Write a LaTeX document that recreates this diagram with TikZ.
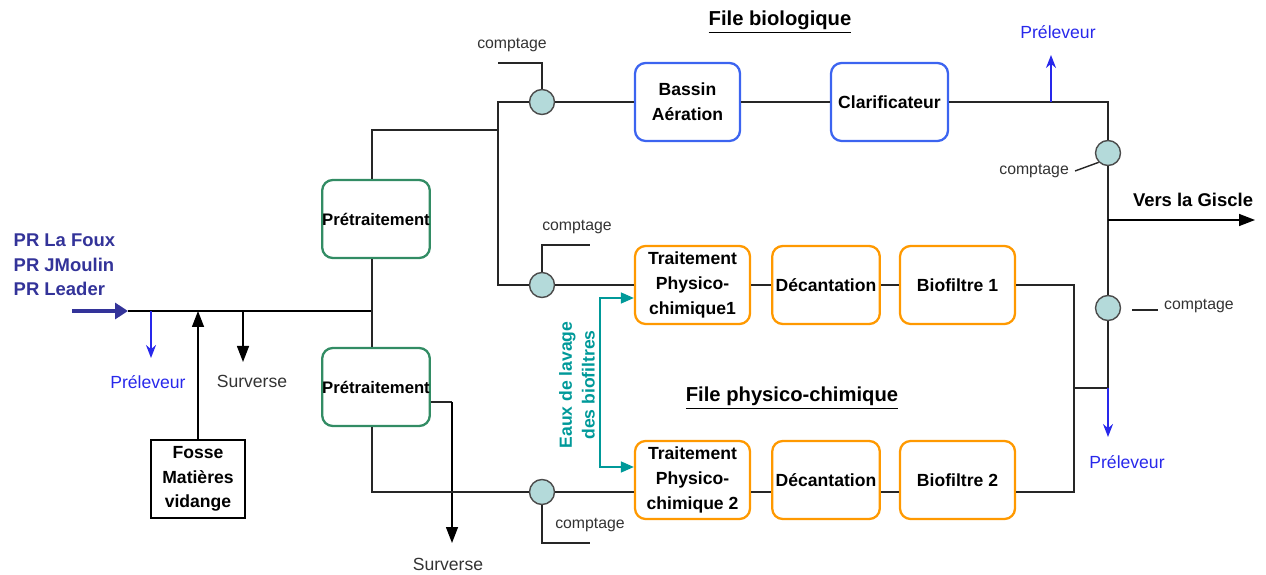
\documentclass[tikz,border=0pt]{standalone}
\usepackage{fontspec}
\setmainfont{Liberation Sans}
\usepackage{xcolor}
\usetikzlibrary{arrows.meta, positioning, calc}

\definecolor{prnavy}{RGB}{51,51,153}
\definecolor{blueprl}{RGB}{40,40,235}
\definecolor{blueb}{RGB}{60,100,240}
\definecolor{greenb}{RGB}{50,140,100}
\definecolor{orangeb}{RGB}{255,153,0}
\definecolor{cptfill}{RGB}{180,218,218}
\definecolor{tealc}{RGB}{0,153,153}

\begin{document}
\begin{tikzpicture}[
    box/.style={rectangle, draw=#1, line width=1.3pt, rounded corners=6pt, minimum height=1.56cm, inner sep=2pt, align=center, font=\fontsize{10}{14}\selectfont\bfseries},
    box/.default={orangeb},
    cpt/.style={circle, draw=black!70, fill=cptfill, minimum size=0.5cm, inner sep=0pt, line width=0.8pt},
    lbl/.style={font=\fontsize{9}{11}\selectfont, text=#1},
    lbl/.default={black!80},
    pipe/.style={line width=0.8pt, black!85},
    conn/.style={-{Triangle[length=3.2mm, width=2.4mm]}, line width=0.8pt, #1},
    conn/.default={black},
    samp/.style={-{Stealth[length=2.6mm, width=2mm]}, line width=1pt, blueprl}
]
\useasboundingbox (0,0) rectangle (25.32,-11.5);

% === ENTREE ===
\node[lbl=prnavy, font=\fontsize{10.5}{14}\selectfont\bfseries, align=left, anchor=west] (entree) at (0.15,-5.3) {PR La Foux\\PR JMoulin\\PR Leader};
\coordinate (in0) at (1.44,-6.22);
\coordinate (in1) at (2.56,-6.22);
\coordinate (jct) at (7.44,-6.22);
\draw[-{Triangle[length=2.6mm, width=3.2mm]}, line width=1.8pt, prnavy] (in0) -- (in1);
\draw[line width=1.6pt] (in1) -- (jct);

\coordinate (s1) at (3.02,-6.22);
\coordinate (s1e) at (3.02,-7.16);
\draw[samp] (s1) -- (s1e);
\node[lbl=blueprl, font=\fontsize{10}{12}\selectfont] (prl1) at (2.96,-7.64) {Préleveur};

\coordinate (sv1) at (4.86,-6.22);
\coordinate (sv1e) at (4.86,-7.24);
\draw[conn] (sv1) -- (sv1e);
\node[lbl, font=\fontsize{10}{12}\selectfont] (surv1) at (5.04,-7.62) {Surverse};

\node[rectangle, draw=black, line width=0.8pt, minimum width=1.88cm, minimum height=1.56cm, align=center, font=\fontsize{10}{14}\selectfont\bfseries] (fosse) at (3.96,-9.58) {Fosse\\Matières\\vidange};
\draw[conn] (fosse.north) -- (fosse.north |- jct);

% === PRETRAITEMENT ===
\node[box=greenb, minimum width=2.06cm, font=\fontsize{9.5}{14}\selectfont\bfseries, inner xsep=0pt] (prA) at (7.52,-4.38) {Prétraitement};
\node[box=greenb, minimum width=2.06cm, font=\fontsize{9.5}{14}\selectfont\bfseries, inner xsep=0pt] (prB) at (7.52,-7.74) {Prétraitement};
\draw[pipe] (jct |- prA.south) -- (jct |- prB.north);

\coordinate (sv2) at (9.04,-8.04);
\coordinate (sv2e) at (9.04,-10.86);
\draw[pipe] (prB.east |- sv2) -- (sv2);
\draw[conn] (sv2) -- (sv2e);
\node[lbl, font=\fontsize{10}{12}\selectfont] (surv2) at (8.96,-11.28) {Surverse};

% === COMPTAGES ENTREE ===
\coordinate (split) at (9.96,-2.6);
\node[cpt] (c1) at (10.84,-2.04) {};
\node[cpt] (c2) at (10.84,-5.7) {};
\node[cpt] (c3) at (10.84,-9.84) {};
\draw[pipe] (jct |- prA.north) |- (split);
\draw[pipe] (c1.west) -| (split) |- (c2.west);
\draw[pipe] (jct |- prB.south) |- (c3.west);

\coordinate (k1) at (9.96,-1.26);
\coordinate (k2) at (11.8,-4.9);
\coordinate (k3) at (11.8,-10.86);
\draw[pipe] (c1.north) |- (k1);
\draw[pipe] (c2.north) |- (k2);
\draw[pipe] (c3.south) |- (k3);
\node[lbl] (cpt1) at (10.24,-0.9) {comptage};
\node[lbl] (cpt2) at (11.54,-4.54) {comptage};
\node[lbl] (cpt3) at (11.8,-10.5) {comptage};

% === FILE BIOLOGIQUE ===
\node[font=\fontsize{11.5}{14}\selectfont\bfseries] (titbio) at (15.6,-0.44) {\underline{File biologique}};
\node[box=blueb, minimum width=2.1cm] (bassin) at (13.75,-2.04) {Bassin\\Aération};
\node[box=blueb, minimum width=2.34cm] (clarif) at (17.79,-2.04) {Clarificateur};
\draw[pipe] (c1.east) -- (bassin.west);
\draw[pipe] (bassin.east) -- (clarif.west);

% === FILE PHYSICO-CHIMIQUE ===
\node[font=\fontsize{11.5}{14}\selectfont\bfseries] (titpc) at (15.84,-7.96) {\underline{File physico-chimique}};
\node[box, minimum width=2.3cm] (trait1) at (13.85,-5.7) {Traitement\\Physico-\\chimique1};
\node[box, minimum width=2.08cm] (decant1) at (16.52,-5.7) {Décantation};
\node[box, minimum width=2.3cm] (biof1) at (19.15,-5.7) {Biofiltre 1};
\node[box, minimum width=2.3cm] (trait2) at (13.85,-9.6) {Traitement\\Physico-\\chimique 2};
\node[box, minimum width=2.08cm] (decant2) at (16.52,-9.6) {Décantation};
\node[box, minimum width=2.3cm] (biof2) at (19.15,-9.6) {Biofiltre 2};

\draw[pipe] (c2.east) -- (trait1.west);
\draw[pipe] (trait1.east) -- (decant1.west);
\draw[pipe] (decant1.east) -- (biof1.west);
\draw[pipe] (c3.east) -- (c3.east -| trait2.west);
\draw[pipe] (trait2.east |- c3) -- (decant2.west |- c3);
\draw[pipe] (decant2.east |- c3) -- (biof2.west |- c3);

% eaux de lavage
\coordinate (lavT) at (12.0,-5.96);
\coordinate (lavB) at (12.0,-9.34);
\draw[{Triangle[length=2.6mm, width=2.2mm]}-{Triangle[length=2.6mm, width=2.2mm]}, line width=0.9pt, tealc] (lavT -| trait1.west) -- (lavT) -- (lavB) -- (lavB -| trait2.west);
\node[rotate=90, align=center, text=tealc, font=\fontsize{10}{13}\selectfont\bfseries] (lavlbl) at (11.54,-7.7) {Eaux de lavage\\des biofiltres};

% === SORTIE ===
\coordinate (mrg) at (21.48,-7.76);
\node[cpt] (c4) at (22.16,-3.06) {};
\node[cpt] (c5) at (22.16,-6.16) {};
\draw[pipe] (biof1.east) -| (mrg);
\draw[pipe] (biof2.east |- c3) -| (mrg);
\draw[pipe] (mrg) -- (mrg -| c5);
\draw[pipe] (clarif.east) -| (c4.north);
\draw[pipe] (c4.south) -- (c5.north);
\draw[pipe] (c5.south) -- (c5 |- mrg);

\coordinate (s2) at (21.02,-2.04);
\coordinate (s2e) at (21.02,-1.1);
\draw[samp] (s2) -- (s2e);
\node[lbl=blueprl, font=\fontsize{10}{12}\selectfont] (prl2) at (21.16,-0.64) {Préleveur};

\coordinate (s3e) at (22.16,-8.74);
\draw[samp] (mrg -| c5) -- (s3e);
\node[lbl=blueprl, font=\fontsize{10}{12}\selectfont] (prl3) at (22.54,-9.24) {Préleveur};

\node[lbl, anchor=east] (cpt4) at (21.5,-3.42) {comptage};
\draw[pipe] (c4.south west) -- (cpt4.east);
\node[lbl, anchor=base west] (cpt5) at (23.16,-6.2) {comptage};
\coordinate (k5) at (22.64,-6.2);
\draw[pipe] (k5) -- (cpt5.base west);

\coordinate (gis0) at (22.16,-4.4);
\coordinate (gis1) at (25.1,-4.4);
\draw[conn] (gis0) -- (gis1);
\node[font=\fontsize{10.5}{12}\selectfont\bfseries] (giscle) at (23.86,-4.0) {Vers la Giscle};

\end{tikzpicture}
\end{document}
